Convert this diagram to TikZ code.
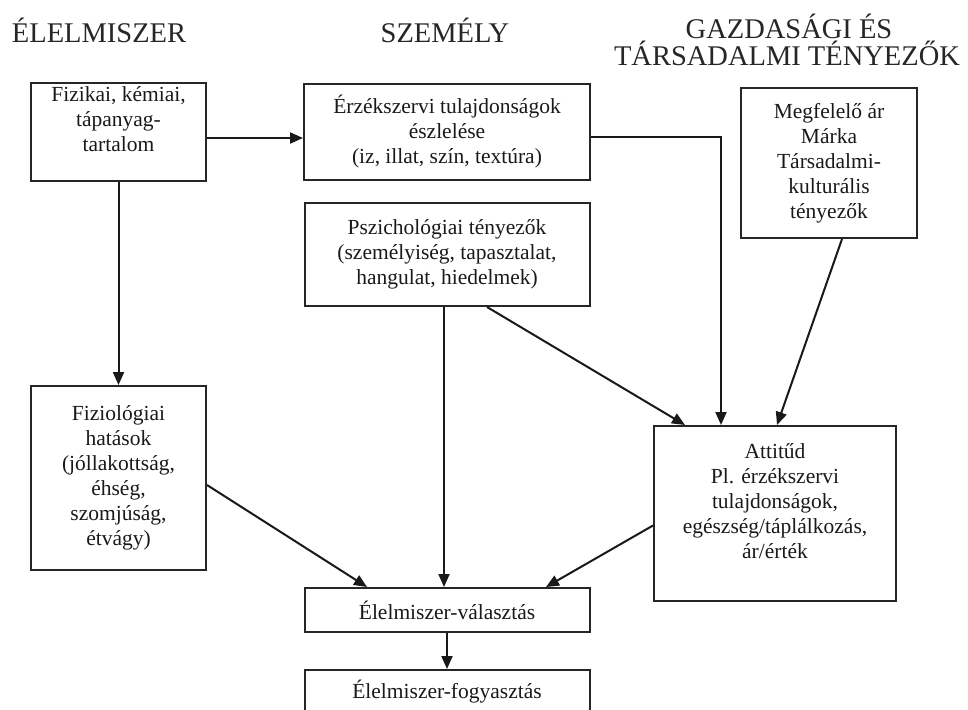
\documentclass[tikz,border=0pt]{standalone}
\usepackage{fontspec}
\setmainfont{Liberation Serif}
\usetikzlibrary{arrows.meta}

\begin{document}
\begin{tikzpicture}[x=1pt,y=-1pt,>={Triangle[length=13pt,width=11pt]}]
    \tikzstyle{box}=[rectangle,draw=black!85,line width=2pt,align=center,inner sep=0pt,text=black!90,font=\fontsize{21.5}{25}\selectfont]
    \tikzstyle{heading}=[inner sep=0pt,align=center,text=black!85,font=\fontsize{28.5}{27}\selectfont]
    \tikzstyle{flow}=[->,draw=black!90,line width=2pt]
    \useasboundingbox (0,0) rectangle (968,709);
    % column headings
    \node[heading,anchor=base](hfood) at (99,42){ÉLELMISZER};
    \node[heading,anchor=base](hperson) at (445,42){SZEMÉLY};
    \node[heading,anchor=base](hsocial) at (789,39){GAZDASÁGI ÉS};
    \node[heading,anchor=base](hsocialb) at (787,66){TÁRSADALMI TÉNYEZŐK};
    % boxes
    \node[box,minimum width=175pt,minimum height=98pt](phys) at (118.5,132){Fizikai, kémiai,\\tápanyag-\\tartalom\\ \mbox{}};
    \node[box,minimum width=286pt,minimum height=96pt,node distance=328.5pt,right of=phys](sense){Érzékszervi tulajdonságok\\észlelése\\(iz, illat, szín, textúra)};
    \node[box,minimum width=285pt,minimum height=103pt,node distance=122.5pt,below of=sense](psych){Pszichológiai tényezők\\(személyiség, tapasztalat,\\hangulat, hiedelmek)};
    \node[box,minimum width=176pt,minimum height=150pt](econ) at (829,163){Megfelelő ár\\Márka\\Társadalmi-\\kulturális\\tényezők};
    \node[box,minimum width=175pt,minimum height=184pt,node distance=346pt,below of=phys](physio){Fiziológiai\\hatások\\(jóllakottság,\\éhség,\\szomjúság,\\étvágy)};
    \node[box,minimum width=242pt,minimum height=175pt](attitude) at (775,513.5){Attitűd\\Pl. érzékszervi\\tulajdonságok,\\egészség/táplálkozás,\\ár/érték\\ \mbox{}};
    \node[box,minimum width=285pt,minimum height=44pt,node distance=355.5pt,below of=psych](choice){Élelmiszer-választás};
    \node[box,minimum width=285pt,minimum height=44pt,node distance=82pt,below of=choice](consume){Élelmiszer-fogyasztás};
    % connectors
    \draw[flow] ([yshift=-6pt]phys.east) -- ([yshift=-6pt]phys.east -| sense.west);
    \draw[flow] (phys.south) -- (physio.north);
    \draw[flow] ([yshift=-5pt]sense.east) -| ([xshift=-54pt]attitude.north);
    \draw[flow] ([xshift=40pt]psych.south) -- ([xshift=-90pt]attitude.north);
    \draw[flow] ([xshift=13pt]econ.south) -- ([xshift=2pt]attitude.north);
    \draw[flow] ([xshift=-3pt]psych.south) -- ([xshift=-3pt]psych.south |- choice.north);
    \draw[flow] ([yshift=-7pt]physio.east) -- ([xshift=-80pt]choice.north);
    \draw[flow] ([yshift=-12pt]attitude.west) -- ([xshift=99pt]choice.north);
    \draw[flow] (choice.south) -- (consume.north);
\end{tikzpicture}
\end{document}
